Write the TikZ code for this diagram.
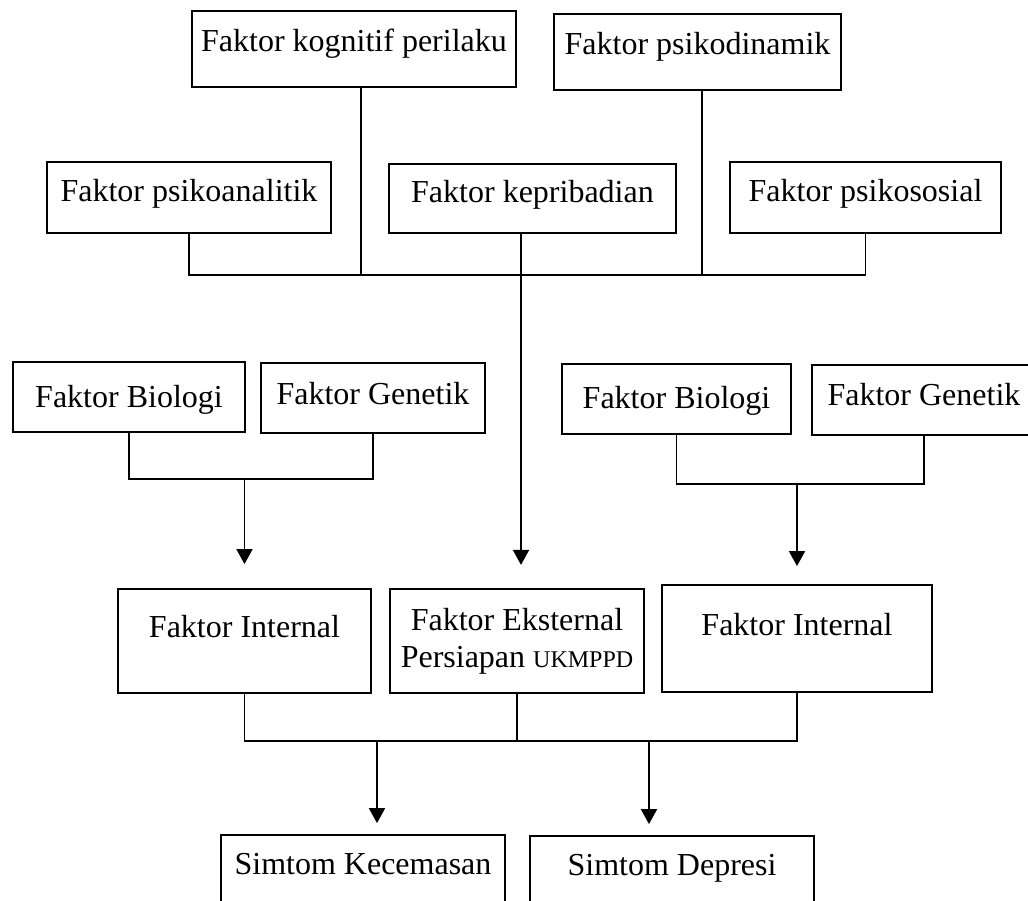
\documentclass[tikz,border=0pt]{standalone}
\usepackage{fontspec}
\setmainfont{Liberation Serif}
\usetikzlibrary{arrows.meta}

\tikzset{
  faktor/.style={draw, line width=1.8pt, inner sep=0pt, anchor=base,
    font=\fontsize{32}{37}\selectfont},
  link/.style={line width=1.2pt},
  arr/.style={line width=1.8pt, -{Triangle[width=16pt,length=15pt]}},
}

\begin{document}
\begin{tikzpicture}[x=1pt, y=-1pt]
        \useasboundingbox (0,0) rectangle (1028,901);
        % faktor psikologis
        \node[faktor, minimum width=324pt, text height=41pt, text depth=35pt] (kognitif) at (354, 52) {Faktor kognitif perilaku};
        \node[faktor, minimum width=287pt, text height=41pt, text depth=35pt] (psikodinamik) at (697.5, 55) {Faktor psikodinamik};
        \node[faktor, minimum width=284pt, text height=40pt, text depth=31pt] (psikoanalitik) at (189, 202) {Faktor psikoanalitik};
        \node[faktor, minimum width=287pt, text height=39pt, text depth=30pt] (kepribadian) at (532.5, 203) {Faktor kepribadian};
        \node[faktor, minimum width=271pt, text height=40pt, text depth=31pt] (psikososial) at (865.5, 202) {Faktor psikososial};
        % biologi dan genetik
        \node[faktor, minimum width=232pt, text height=45pt, text depth=25pt] (biologiL) at (129, 407) {Faktor Biologi};
        \node[faktor, minimum width=224pt, text height=41pt, text depth=29pt] (genetikL) at (373, 404) {Faktor Genetik};
        \node[faktor, minimum width=229pt, text height=44pt, text depth=26pt] (biologiR) at (676.5, 408) {Faktor Biologi};
        \node[faktor, minimum width=224pt, text height=40pt, text depth=30pt] (genetikR) at (924, 405) {Faktor Genetik};
        % internal / eksternal
        \node[faktor, minimum width=253pt, text height=48pt, text depth=56pt] (internalL) at (244.5, 637) {Faktor Internal};
        \node[faktor, anchor=center, align=center, minimum width=254pt, minimum height=104pt] (eksternal) at (517, 641)
            {Faktor Eksternal\\Persiapan {\fontsize{24}{28}\selectfont UKMPPD}};
        \node[faktor, minimum width=270pt, text height=50pt, text depth=57pt] (internalR) at (797, 635) {Faktor Internal};
        % simtom
        \node[faktor, minimum width=284pt, text height=39pt, text depth=41pt] (kecemasan) at (363, 874) {Simtom Kecemasan};
        \node[faktor, minimum width=284pt, text height=39pt, text depth=40pt] (depresi) at (672, 875) {Simtom Depresi};

        \coordinate (bus1) at (0, 275);
        \coordinate (bus2) at (0, 479);
        \coordinate (bus3) at (0, 484);
        \coordinate (bus4) at (0, 741);
        \coordinate (cabang1) at (377, 741);
        \coordinate (cabang2) at (649, 741);

        \draw [link] (psikoanalitik.south) |- (bus1 -| psikososial.south) -- (psikososial.south);
        \draw [link] ([xshift=7pt]kognitif.south) -- ++(0, 188);
        \draw [link] ([xshift=4.5pt]psikodinamik.south) -- ++(0, 185);
        \draw [arr] ([xshift=-11.5pt]kepribadian.south) -- ++(0, 331);

        \draw [link] (biologiL.south) |- (bus2 -| genetikL.south) -- (genetikL.south);
        \draw [arr, shorten >=24pt] (bus2 -| internalL.north) -- (internalL.north);
        \draw [link] (biologiR.south) |- (bus3 -| genetikR.south) -- (genetikR.south);
        \draw [arr, shorten >=18pt] (bus3 -| internalR.north) -- (internalR.north);

        \draw [link] (internalL.south) |- (bus4 -| internalR.south) -- (internalR.south);
        \draw [link] (eksternal.south) -- (eksternal.south |- bus4);
        \draw [arr, shorten >=11pt] (cabang1) -- (cabang1 |- kecemasan.north);
        \draw [arr, shorten >=11pt] (cabang2) -- (cabang2 |- depresi.north);
    \end{tikzpicture}
\end{document}
